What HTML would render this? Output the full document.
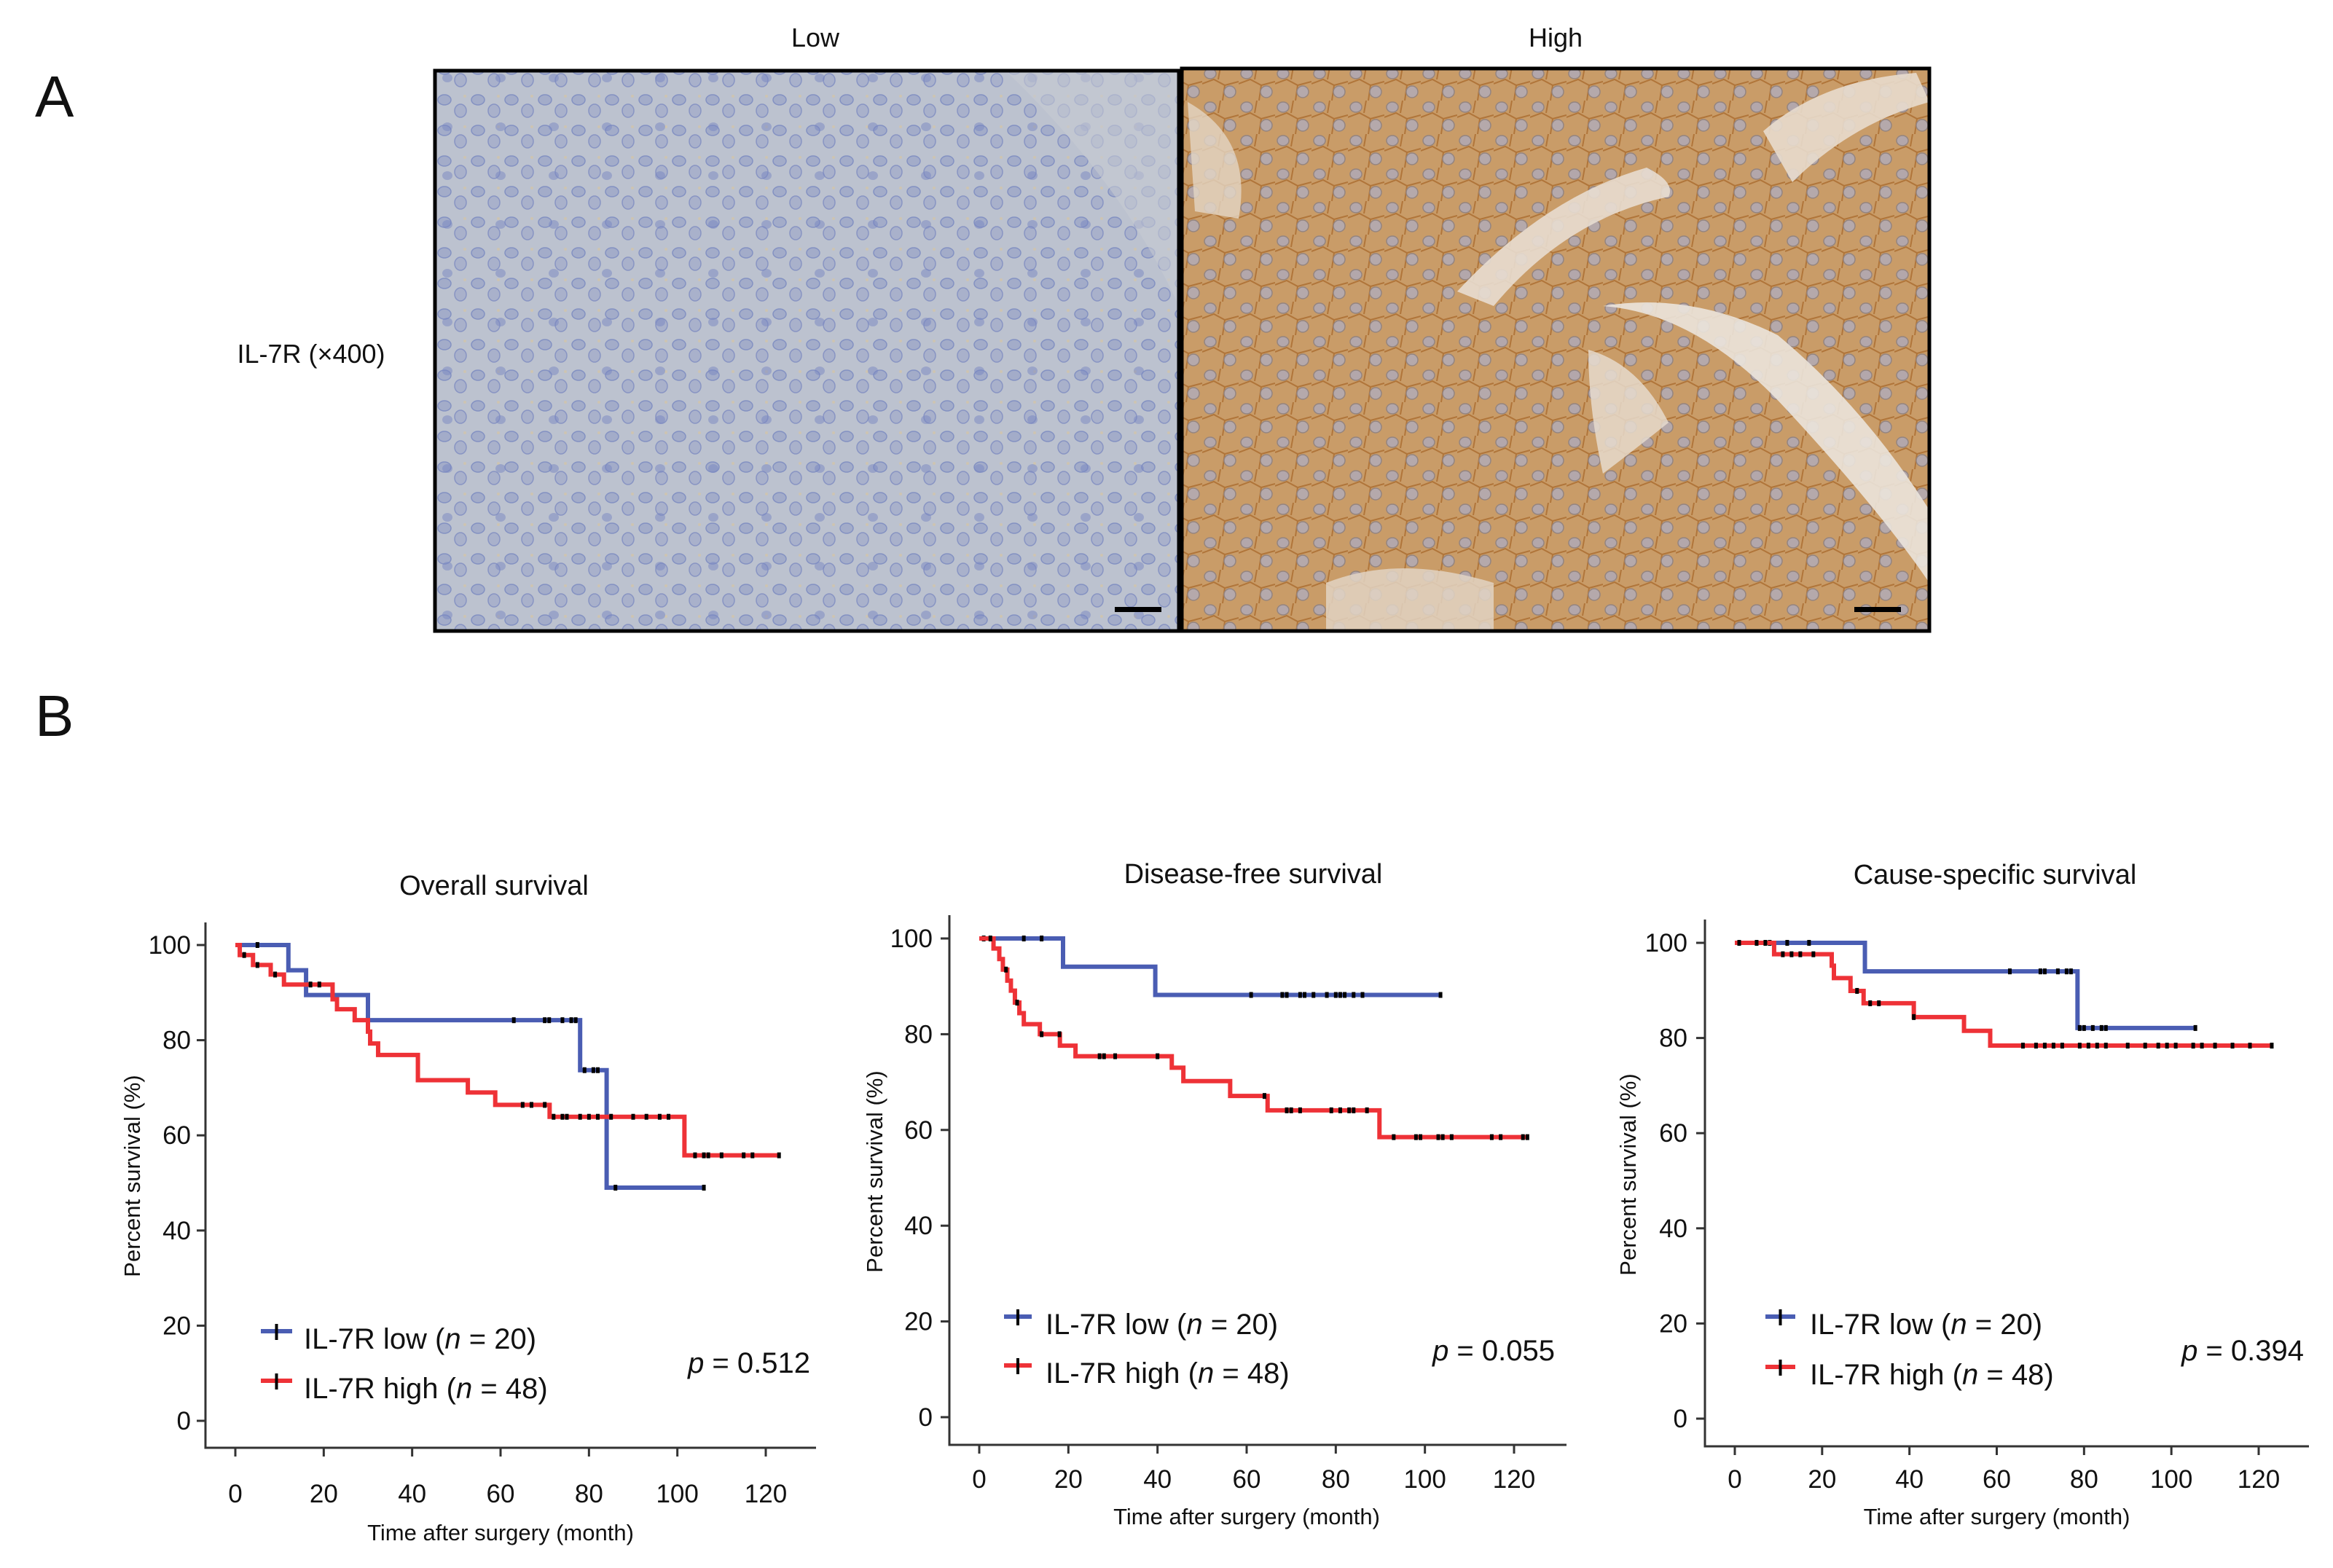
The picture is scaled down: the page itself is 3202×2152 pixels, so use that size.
<!DOCTYPE html>
<html><head><meta charset="utf-8"><style>
html,body{margin:0;padding:0;background:#fff;}
svg{display:block;}
text{font-family:"Liberation Sans",Arial,sans-serif;fill:#111;}
</style></head><body>
<svg id="fig" width="3202" height="2152" viewBox="0 0 3202 2152" xmlns="http://www.w3.org/2000/svg">
<defs>
<pattern id="cellsLow" width="46" height="42" patternUnits="userSpaceOnUse">
<rect width="46" height="42" fill="#bcc2cf"/>
<ellipse cx="12" cy="11" rx="9" ry="7" fill="#a3acc9" stroke="#8391c2" stroke-width="1.5"/>
<ellipse cx="34" cy="26" rx="8" ry="9" fill="#a9b1cb" stroke="#8894c3" stroke-width="1.5"/>
<circle cx="40" cy="6" r="2" fill="#cdc4b2"/>
</pattern>
<pattern id="cellsLow2" width="73" height="67" patternUnits="userSpaceOnUse">
<ellipse cx="30" cy="40" rx="7" ry="6" fill="#7886c2" opacity="0.5"/>
</pattern>
<pattern id="cellsHigh" width="50" height="46" patternUnits="userSpaceOnUse">
<rect width="50" height="46" fill="#c99c68"/>
<path d="M0 23 L16 17 L31 25 L50 20 M25 0 L22 17 M31 25 L28 46" stroke="#b0753a" stroke-width="2" fill="none"/>
<ellipse cx="11" cy="9" rx="8" ry="7" fill="#b3a7ab" stroke="#94847f" stroke-width="1.5"/>
<ellipse cx="38" cy="34" rx="8" ry="8" fill="#b5a9ab" stroke="#94847f" stroke-width="1.5"/>
</pattern>
</defs>

<text x="48" y="160" font-size="80">A</text>
<text x="1119" y="64" font-size="36" text-anchor="middle">Low</text>
<text x="2135" y="64" font-size="36" text-anchor="middle">High</text>
<text x="427" y="498" font-size="36" text-anchor="middle">IL-7R (×400)</text>

<g>
<rect x="597" y="97" width="1021" height="769" fill="url(#cellsLow)"/>
<rect x="597" y="97" width="1021" height="769" fill="url(#cellsLow2)"/>
<path d="M1380 97 L1618 97 L1618 420 Q1540 250 1380 97Z" fill="#c6c9d2" opacity="0.6"/>
<rect x="1530" y="833" width="64" height="7" fill="#000"/>
<rect x="597" y="97" width="1021" height="769" fill="none" stroke="#000" stroke-width="5"/>
</g>
<g>
<rect x="1622" y="94" width="1026" height="772" fill="url(#cellsHigh)"/>
<path d="M2000 400 Q2120 270 2260 230 Q2300 250 2290 270 Q2150 300 2050 420Z" fill="#e8ddd0" opacity="0.9"/>
<path d="M2200 420 Q2330 430 2450 560 Q2580 700 2648 800 L2648 700 Q2560 560 2440 460 Q2320 400 2200 420Z" fill="#ebe4dc" opacity="0.9"/>
<path d="M2180 480 Q2250 500 2290 580 Q2240 620 2200 650 Q2180 560 2180 480Z" fill="#e6dacd" opacity="0.85"/>
<path d="M2420 180 Q2500 110 2630 100 L2648 140 Q2540 170 2460 250 Z" fill="#e8dccd" opacity="0.9"/>
<path d="M1630 140 Q1720 190 1700 300 L1640 290Z" fill="#e4d6c4" opacity="0.8"/>
<path d="M1820 800 Q1920 760 2050 800 L2050 866 L1820 866Z" fill="#e2d4c3" opacity="0.85"/>
<rect x="2545" y="833" width="64" height="7" fill="#000"/>
<rect x="1622" y="94" width="1026" height="772" fill="none" stroke="#000" stroke-width="5"/>
</g>

<text x="48" y="1010" font-size="80">B</text>
<g id="charts"></g>
</svg>
<script>
// ---- Overall survival data ----
const osLowTimes = [0, 12, 16, 30, 78, 84, 106];
const osLowSurv = [100, 94.7, 89.5, 84.2, 73.7, 49, 49];
const osLowCens = [5, 63, 70, 71, 74, 76, 77, 79, 81, 82, 86, 106];
const osHighTimes = [0, 1, 4, 8, 11, 22, 23, 27, 30, 30.5, 32.3, 41.3, 52.6, 58.8, 71.1, 101.6, 123];
const osHighSurv = [100, 97.9, 95.8, 93.8, 91.7, 88.6, 86.5, 84.2, 81.8, 79.3, 76.9, 71.6, 69, 66.4, 63.9, 55.8, 55.8];
const osHighCens = [2, 5, 9, 17, 19, 65, 67, 70, 72, 74, 75, 78, 80, 82, 85, 90, 93, 96, 98, 104, 106, 107, 110, 115, 117, 123];
// ---- Disease-free survival data ----
const dfsLowTimes = [0, 18.8, 39.5, 103.5];
const dfsLowSurv = [100, 94.1, 88.2, 88.2];
const dfsLowCens = [1, 10, 14, 61, 68, 69, 72, 73, 75, 78, 80, 81, 82, 84, 86, 103.5];
const dfsHighTimes = [0, 3.2, 4.5, 5.3, 6.3, 7.1, 8, 9, 10, 13.6, 18.1, 21.6, 43.2, 45.8, 56.3, 64.7, 89.8, 123];
const dfsHighSurv = [100, 97.9, 95.7, 93.5, 91.2, 89.1, 86.6, 84.4, 82.1, 80, 77.6, 75.4, 73, 70.2, 67.1, 64.1, 58.5, 58.5];
const dfsHighCens = [2.5, 6, 8.5, 14, 18, 27, 28, 30.5, 40, 64, 69, 70, 72, 79, 81, 83, 84, 87, 93, 98, 99, 103, 104, 106, 115, 117, 122, 123];
// ---- Cause-specific survival data ----
const cssLowTimes = [0, 29.8, 78.5, 105.5];
const cssLowSurv = [100, 94, 82.1, 82.1];
const cssLowCens = [1, 8, 12, 17, 63, 70, 71, 74, 76, 77, 79, 80, 82, 84, 85, 105.5];
const cssHighTimes = [0, 9, 22.2, 22.7, 26.5, 29.5, 41, 52.5, 58.5, 123];
const cssHighSurv = [100, 97.6, 95.2, 92.6, 89.9, 87.3, 84.4, 81.5, 78.4, 78.4];
const cssHighCens = [1, 5, 7, 11, 13, 15, 18, 28, 31, 33, 41, 66, 69, 71, 73, 75, 79, 81, 83, 85, 90, 94, 97, 99, 101, 105, 107, 110, 114, 118, 123];
// ---- shared labels ----
const xTickLabels = [0, 20, 40, 60, 80, 100, 120];
const yTickLabels = [0, 20, 40, 60, 80, 100];
const chartTitles = ["Overall survival", "Disease-free survival", "Cause-specific survival"];
const pValues = ["0.512", "0.055", "0.394"];
const groupLow = "20";
const groupHigh = "48";

const NS = "http://www.w3.org/2000/svg";
const root = document.getElementById("charts");
function mk(tag, attrs, parent) {
  const e = document.createElementNS(NS, tag);
  for (const k in attrs) e.setAttribute(k, attrs[k]);
  (parent || root).appendChild(e);
  return e;
}
const layouts = [
  {key:"os", ax:282, top:1266, right:1120, bottom:1987, x0:323, x120:1051, y0:1950, y100:1297, titleX:678, titleY:1228, tickY:2062, xTitleY:2114, yTickX:262, yLabX:192, yLabY:1614, legX1:358, legX2:401, legLow:1827, legHigh:1895, legTextX:417, pX:1112, pY:1884},
  {key:"dfs", ax:1303, top:1256, right:2150, bottom:1983, x0:1344, x120:2078, y0:1945, y100:1288, titleX:1720, titleY:1212, tickY:2042, xTitleY:2092, yTickX:1280, yLabX:1211, yLabY:1608, legX1:1378, legX2:1416, legLow:1807, legHigh:1874, legTextX:1435, pX:2134, pY:1867},
  {key:"css", ax:2340, top:1262, right:3169, bottom:1985, x0:2381, x120:3100, y0:1947, y100:1294, titleX:2738, titleY:1213, tickY:2042, xTitleY:2092, yTickX:2316, yLabX:2245, yLabY:1612, legX1:2423, legX2:2464, legLow:1807, legHigh:1876, legTextX:2484, pX:3162, pY:1867}
];
const series = [
  [osLowTimes, osLowSurv, osLowCens, osHighTimes, osHighSurv, osHighCens],
  [dfsLowTimes, dfsLowSurv, dfsLowCens, dfsHighTimes, dfsHighSurv, dfsHighCens],
  [cssLowTimes, cssLowSurv, cssLowCens, cssHighTimes, cssHighSurv, cssHighCens]
];
const BLUE = "#4a5db3", RED = "#ee3237";

function survAt(times, surv, t) {
  let v = surv[0];
  for (let i = 0; i < times.length; i++) { if (times[i] <= t) v = surv[i]; }
  return v;
}

layouts.forEach((L, ci) => {
  const g = mk("g", {});
  
  
  const xs = t => L.x0 + (L.x120 - L.x0) * t / 120;
  const ys = v => L.y0 - (L.y0 - L.y100) * v / 100;

  const title = mk("text", {x:L.titleX, y:L.titleY, "font-size":38, "text-anchor":"middle"}, g);
  title.textContent = chartTitles[ci];
  
  

  const axes = mk("path", {d:`M${L.ax} ${L.top} L${L.ax} ${L.bottom} L${L.right} ${L.bottom}`, stroke:"#333", "stroke-width":3, fill:"none"}, g);
  
  

  xTickLabels.forEach(v => {
    const x = xs(v);
    mk("line", {x1:x, y1:L.bottom, x2:x, y2:L.bottom + 12, stroke:"#333", "stroke-width":3}, g);
    const t = mk("text", {x:x, y:L.tickY, "font-size":35, "text-anchor":"middle"}, g);
    t.textContent = v;
    
    
  });
  yTickLabels.forEach(v => {
    const y = ys(v);
    mk("line", {x1:L.ax - 12, y1:y, x2:L.ax, y2:y, stroke:"#333", "stroke-width":3}, g);
    const t = mk("text", {x:L.yTickX, y:y + 12, "font-size":35, "text-anchor":"end"}, g);
    t.textContent = v;
    
    
  });
  const xt = mk("text", {x:(L.x0 + L.x120) / 2, y:L.xTitleY, "font-size":31, "text-anchor":"middle"}, g);
  xt.textContent = "Time after surgery (month)";
  
  
  const yt = mk("text", {x:L.yLabX, y:L.yLabY, "font-size":31, "text-anchor":"middle", transform:`rotate(-90 ${L.yLabX} ${L.yLabY})`}, g);
  yt.textContent = "Percent survival (%)";
  
  

  const S = series[ci];
  [[S[0], S[1], S[2], BLUE, "low"], [S[3], S[4], S[5], RED, "high"]].forEach(([T, V, C, col, nm]) => {
    let d = `M${xs(T[0])} ${ys(V[0])}`;
    for (let i = 1; i < T.length; i++) {
      d += ` L${xs(T[i])} ${ys(V[i - 1])} L${xs(T[i])} ${ys(V[i])}`;
    }
    const p = mk("path", {d:d, stroke:col, "stroke-width":6, fill:"none"}, g);
    
    
    C.forEach(t => {
      const v = survAt(T, V, t);
      const m = mk("rect", {x:xs(t) - 2.5, y:ys(v) - 4, width:5, height:8, fill:"#000"}, g);
      
      
    });
  });

  [[L.legLow, BLUE, "IL-7R low (", groupLow], [L.legHigh, RED, "IL-7R high (", groupHigh]].forEach(([y, col, lab, n]) => {
    const lg = mk("g", {}, g);
    
    
    mk("line", {x1:L.legX1, y1:y, x2:L.legX2, y2:y, stroke:col, "stroke-width":6}, lg);
    mk("line", {x1:(L.legX1 + L.legX2) / 2, y1:y - 10, x2:(L.legX1 + L.legX2) / 2, y2:y + 12, stroke:"#000", "stroke-width":4}, lg);
    const t = mk("text", {x:L.legTextX, y:y + 24, "font-size":40}, lg);
    t.appendChild(document.createTextNode(lab));
    const it = mk("tspan", {"font-style":"italic"}, t);
    it.textContent = "n";
    t.appendChild(document.createTextNode(" = " + n + ")"));
  });
  const pt = mk("text", {x:L.pX, y:L.pY, "font-size":40, "text-anchor":"end"}, g);
  const pi = mk("tspan", {"font-style":"italic"}, pt);
  pi.textContent = "p";
  pt.appendChild(document.createTextNode(" = " + pValues[ci]));
  
  
});
</script>
</body></html>
